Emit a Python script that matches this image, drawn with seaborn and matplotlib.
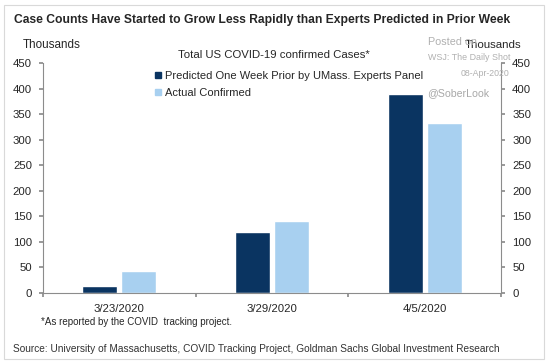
import matplotlib
matplotlib.use("Agg")
import matplotlib.pyplot as plt
import matplotlib.patches as mpatches
import pandas as pd
import seaborn as sns

# ---------------------------------------------------------------------------
# Data (thousands of cases)
# ---------------------------------------------------------------------------
dates = ["3/23/2020", "3/29/2020", "4/5/2020"]
predicted = [13, 119, 389]
actual = [44, 140, 333]
series_names = ["Predicted One Week Prior by UMass. Experts Panel", "Actual Confirmed"]
y_ticks = [0, 50, 100, 150, 200, 250, 300, 350, 400, 450]

DARK = "#0A3461"
LIGHT = "#A8D0F0"
GRAY = "#8C8C8C"
WM = "#B0B0B0"
W, H = 548, 363

sns.set_theme(style="white")
plt.rcParams["font.family"] = ["Liberation Sans", "DejaVu Sans"]

df = pd.DataFrame({
    "date": dates * 2,
    "value": predicted + actual,
    "series": [series_names[0]] * 3 + [series_names[1]] * 3,
})

fig = plt.figure(figsize=(W / 100, H / 100), dpi=100)
ax = fig.add_axes([43 / W, 1 - 293 / H, 458 / W, 230 / H])

sns.barplot(data=df, x="date", y="value", hue="series", order=dates,
            hue_order=series_names, palette=[DARK, LIGHT],
            width=0.51, gap=0.10, saturation=1, ax=ax, legend=False)

ax.set_ylim(0, 450)
ax.set_xlim(-0.5, 2.5)
ax.set_yticks(y_ticks)
ax.set_xlabel("")
ax.set_ylabel("")
# category boundaries carry the tick marks, labels sit in between
ax.set_xticks([-0.5, 0.5, 1.5, 2.5])
ax.set_xticklabels([])
ax.set_xticks([0, 1, 2], minor=True)
ax.set_xticklabels(dates, minor=True)
ax.tick_params(axis="x", which="major", direction="out", length=3, color=GRAY, bottom=True)
ax.tick_params(axis="x", which="minor", length=0, labelsize=8.2, pad=8)
ax.tick_params(axis="y", direction="out", length=3, color=GRAY, left=True, labelsize=8.2, pad=5)
for s in ["top", "right"]:
    ax.spines[s].set_visible(False)
for s in ["left", "bottom"]:
    ax.spines[s].set_color(GRAY)
    ax.spines[s].set_linewidth(0.8)

ax2 = ax.twinx()
ax2.set_ylim(0, 450)
ax2.set_yticks(y_ticks)
ax2.tick_params(axis="y", direction="out", length=3, color=GRAY, right=True, labelsize=8.2, pad=5)
for s in ["top", "left", "bottom"]:
    ax2.spines[s].set_visible(False)
ax2.spines["right"].set_color(GRAY)
ax2.spines["right"].set_linewidth(0.8)
ax2.grid(False)


def fitted_text(s, x0, x1, y, ha="left", **kw):
    """Place a text so that it spans roughly x0..x1 pixels."""
    x = x0 if ha == "left" else (x0 + x1) / 2
    t = fig.text(x / W, 1 - y / H, s, va="center", ha=ha, fontsize=8, **kw)
    fig.canvas.draw()
    width = t.get_window_extent().width
    t.set_fontsize(8 * (x1 - x0) / width)
    return t


fitted_text("Case Counts Have Started to Grow Less Rapidly than Experts Predicted in Prior Week",
            14, 509, 20, fontweight="bold")
fitted_text("Thousands", 23, 81, 45)
fitted_text("Thousands", 465, 522, 45)
fitted_text("Total US COVID-19 confirmed Cases*", 178, 370, 55, ha="center")

fitted_text("Posted on", 428, 477, 42, color=WM)
fitted_text("WSJ: The Daily Shot", 428, 510, 57, color=WM)
fitted_text("08-Apr-2020", 461, 510, 73, color=WM)
fitted_text("@SoberLook", 427, 489, 93, color="#A8A8A8")

fitted_text("*As reported by the COVID  tracking project.", 41, 233, 322)
fitted_text("Source: University of Massachusetts, COVID Tracking Project, Goldman Sachs Global Investment Research",
            13, 504, 349, color="#333333")

# legend: square markers, label of first entry spans about 163..422 px
handles = [mpatches.Patch(color=DARK), mpatches.Patch(color=LIGHT)]
leg_kw = dict(loc="upper left", bbox_to_anchor=(155 / W, 1 - 71 / H), frameon=False,
              handlelength=0.55, handleheight=0.55, handletextpad=0.35,
              labelspacing=0.62, borderaxespad=0, borderpad=0)
leg_size = 8.0
for _ in range(2):
    leg = fig.legend(handles, series_names, fontsize=leg_size, **leg_kw)
    fig.canvas.draw()
    lw = leg.get_texts()[0].get_window_extent().width
    leg.remove()
    leg_size = leg_size * (422 - 163) / lw
fig.legend(handles, series_names, fontsize=leg_size, **leg_kw)

border = mpatches.Rectangle((0.008, 0.011), 0.984, 0.975, transform=fig.transFigure,
                            fill=False, edgecolor="#D9D9D9", linewidth=0.8)
fig.patches.append(border)

fig.savefig("out.png", dpi=100)
